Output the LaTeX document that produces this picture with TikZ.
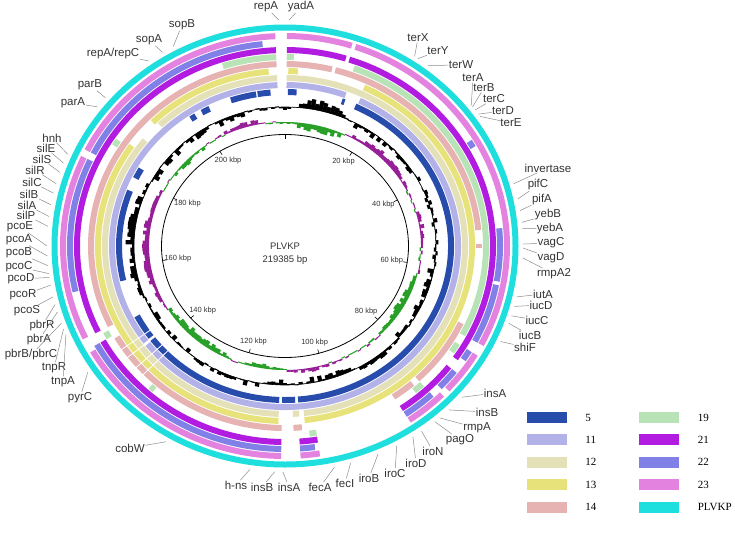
\documentclass[tikz,border=0pt]{standalone}
\usepackage{fontspec}
\setmainfont{Liberation Serif}
\setsansfont{Liberation Sans}
\usetikzlibrary{positioning}
\usetikzlibrary{calc}

\definecolor{c5}{RGB}{40,76,172}
\definecolor{c11}{RGB}{178,178,232}
\definecolor{c12}{RGB}{228,225,184}
\definecolor{c13}{RGB}{231,227,122}
\definecolor{c14}{RGB}{231,178,178}
\definecolor{c19}{RGB}{184,227,182}
\definecolor{c21}{RGB}{178,28,224}
\definecolor{c22}{RGB}{128,128,230}
\definecolor{c23}{RGB}{228,130,224}
\definecolor{cPL}{RGB}{30,222,222}
\definecolor{skewpos}{RGB}{150,30,150}
\definecolor{skewneg}{RGB}{40,160,40}

\tikzset{%
	% rings and plots:
	ringband/.style = {line width=6pt},
	gcbar/.style = {line width=4.2pt, black},
	skewbar/.style = {line width=3.8pt},
	% texts:
	gene/.style = {inner sep=0.4pt, text=black!80, font=\fontsize{11.5}{12}\selectfont\sffamily},
	leader/.style = {draw=black!45, line width=0.5pt},
	kbp/.style = {inner sep=0pt, text=black!80, font=\fontsize{7.5}{8}\selectfont\sffamily},
	legbox/.style = {minimum width=40pt, minimum height=11pt, inner sep=0pt},
	legtext/.style = {inner sep=0pt, font=\fontsize{11}{12}\selectfont}
}

% one ring piece: radius, colour, from, to (degrees clockwise from the top)
\newcommand{\ringseg}[4]{%
	\pgfmathsetmacro{\ringry}{#1-12}%
	\draw[ringband, #2] ({#3-90}:{#1} and {\ringry}) arc[start angle={#3-90}, end angle={#4-90}, x radius=#1, y radius=\ringry];%
}

\begin{document}
\begin{tikzpicture}[x=1pt, y=-1pt]
	\useasboundingbox (0,0) rectangle (735,533);
	\coordinate (c) at (285,246);

	\begin{scope}[shift={(c)}]
		% blast rings, inside out
		\foreach \a/\b in {25/175.5, 176.5/181, 182/233, 233.8/243, 257/291, 296/300, 325.5/327.5, 330/333, 341/350, 350.5/355, 1/4, 20/21}
			{\ringseg{166}{c5}{\a}{\b}}
		\foreach \a/\b in {0.5/20.5, 25.5/232.5, 233.5/357.5}
			{\ringseg{173}{c11}{\a}{\b}}
		\foreach \a/\b in {0.5/174, 175.5/177.5, 182/309, 316/357.5}
			{\ringseg{180}{c12}{\a}{\b}}
		\foreach \a/\b in {1/4, 25/174, 182/305, 315/355}
			{\ringseg{187}{c13}{\a}{\b}}
		\foreach \a/\b in {0.5/14, 15/85, 89.5/90.5, 115/137, 139/146, 175/177.5, 181/240, 244/357.5}
			{\ringseg{194}{c14}{\a}{\b}}
		\foreach \a/\b in {342/357.5, 0.5/2.5, 20/118, 121/124, 137/140, 171/173, 220.5/222, 241/243, 302/304}
			{\ringseg{201}{c19}{\a}{\b}}
		\foreach \a/\b in {0.5/17, 18/125, 128/146, 171/176, 181/241, 244/357.5}
			{\ringseg{208}{c21}{\a}{\b}}
		\foreach \a/\b in {59/61, 85/100, 101/118, 121/124, 128/134, 137/146, 172/176, 181/241, 257/295, 297/354}
			{\ringseg{215}{c22}{\a}{\b}}
		\foreach \a/\b in {0.5/17.5, 18.5/118, 121/133, 135/146, 171/176, 181/240, 244/295, 297/357.5}
			{\ringseg{222}{c23}{\a}{\b}}
		\draw[ringband, cPL] (0,0) ellipse [x radius=230.5, y radius=218.5];
		\foreach \w in {226,229,233,236}
			\draw[white, line width=0.8pt] ({\w-90}:{162} and {150}) -- ({\w-90}:{198} and {186});

		% GC content
		\pgfmathsetseed{7}
		\foreach \t in {0,1.5,...,358.5}{
			\pgfmathsetmacro{\gcb}{10*max(0,1-((\t-14)/12)^2)+8*max(0,1-((\t-142)/12)^2)+6*max(0,1-((\t-200)/18)^2)+8*max(0,1-((\t-272)/28)^2)+3*max(0,1-((\t-75)/25)^2)}
			\pgfmathsetmacro{\gch}{max(-7,min(13,\gcb-2.5+3.5*rand))}
			\pgfmathsetmacro{\gcro}{151+\gch}
			\pgfmathsetmacro{\gcrv}{139+\gch}
			\draw[gcbar] ({\t-90}:{151} and {139}) -- ({\t-90}:{\gcro} and {\gcrv});
		}
		\draw[black, line width=0.6pt] (0,0) ellipse [x radius=151, y radius=139];

		% GC skew
		\foreach \t in {0,1.5,...,358.5}{
			\pgfmathsetmacro{\skb}{5*max(0,1-((\t-45)/18)^2)+6*max(0,1-((\t-268)/30)^2)+4*max(0,1-((\t-342)/10)^2)+3*max(0,1-((\t-82)/10)^2)+3*max(0,1-((\t-168)/10)^2)-6*max(0,1-((\t-14)/14)^2)-6*max(0,1-((\t-120)/18)^2)-6*max(0,1-((\t-222)/20)^2)-3*max(0,1-((\t-315)/12)^2)-3*max(0,1-((\t-190)/10)^2)}
			\pgfmathsetmacro{\skh}{max(-9,min(9,\skb+2*rand))}
			\pgfmathsetmacro{\skh}{abs(\skh)<1 ? (\skh<0 ? -1 : 1) : \skh}
			\pgfmathsetmacro{\skro}{136+\skh}
			\pgfmathsetmacro{\skrv}{124+\skh}
			\ifdim \skh pt>0pt \def\skcol{skewpos}\else\def\skcol{skewneg}\fi
			\draw[skewbar, \skcol] ({\t-90}:{136} and {124}) -- ({\t-90}:{\skro} and {\skrv});
		}

		% backbone and kbp scale
		\draw[black, line width=0.8pt] (0,0) ellipse [x radius=123.5, y radius=111.5];
		\draw[black, line width=0.6pt] (-90:{123.5} and {111.5}) -- (-90:{119.5} and {107.5});
		\foreach \k in {20,40,...,200}{
			\pgfmathsetmacro{\ang}{\k/219.385*360-90}
			\draw[black, line width=0.6pt] (\ang:{123.5} and {111.5}) -- (\ang:{119.5} and {107.5});
			\node (kb\k) [kbp] at (\ang:{108} and {100}) {\k{} kbp};
		}
	\end{scope}

	\node (plas) [inner sep=0pt, text=black!80, font=\fontsize{9.5}{10}\selectfont\sffamily] at (285,246) {PLVKP};
	\node (len) [below=6pt of plas, inner sep=0pt, text=black!80, font=\fontsize{9.5}{10}\selectfont\sffamily] {219385 bp};

	% gene labels and their leaders
	\foreach \id/\txt/\lx/\ly/\ang in {
		repA/repA/266/7/358.5, yadA/yadA/301/7/1,
		sopB/sopB/182/25/332, sopA/sopA/149/40/329, repAC/{repA/repC}/113/54/325,
		parB/parB/90/85/311, parA/parA/73/103/308,
		hnh/hnh/52/138/294, silE/silE/46/148/291.5, silS/silS/42/159/289, silR/silR/35/170/286,
		silC/silC/32/182/283.5, silB/silB/29/194/280.5, silA/silA/27/205/277.5, silP/silP/26/215/275,
		pcoE/pcoE/20/227/270, pcoA/pcoA/19/240/267.5, pcoB/pcoB/19/253/265, pcoC/pcoC/19/267/263,
		pcoD/pcoD/21/279/262, pcoR/pcoR/23/295/260, pcoS/pcoS/27/311/257,
		pbrR/pbrR/42/326/255, pbrA/pbrA/39/340/253, pbrBC/{pbrB/pbrC}/31/355/250,
		tnpR/tnpR/54/368/248.5, tnpA/tnpA/63/382/247, pyrC/pyrC/80/398/236,
		cobW/cobW/130/448/210,
		hns/h-ns/236/485/188.5, insB2/insB/262/487/182.5, insA2/insA/289/487/180.5,
		fecA/fecA/320/487/168, fecI/fecI/345/483/164, iroB/iroB/369/478/157, iroC/iroC/395/473/152,
		iroD/iroD/416/463/147.5, iroN/iroN/433/451/145, pagO/pagO/460/440/141, rmpA/rmpA/477/428/139.5,
		insB1/insB/487/412/136.5, insA1/insA/495/393/132,
		shiF/shiF/525/347/115, iucB/iucB/530/335/110, iucC/iucC/537/320/108, iucD/iucD/541/305/105.5,
		iutA/iutA/543/294/103, rmpA2/rmpA2/554/274/93, vagD/vagD/551/258/90.5, vagC/vagC/551/243/89.5,
		yebA/yebA/550/229/85.5, yebB/yebB/548/215/84, pifA/pifA/542/200/81, pifC/pifC/538/185/78,
		invertase/invertase/548/168/74,
		terE/terE/511/123/55, terD/terD/503/111/54.3, terC/terC/494/99/53, terB/terB/484/88/52,
		terA/terA/473/78/51.5, terW/terW/461/65/37, terY/terY/438/51/34, terX/terX/418/38/33}{
		\node (l-\id) [gene] at (\lx,\ly) {\txt};
		\coordinate (g-\id) at ($(c)+({\ang-90}:{238} and {226})$);
		\draw[leader] (l-\id) -- (g-\id);
	}

	% legend
	\node (k5) [legbox, fill=c5] at (547,417.5) {};
	\node (k11) [legbox, fill=c11, below=11pt of k5] {};
	\node (k12) [legbox, fill=c12, below=11pt of k11] {};
	\node (k13) [legbox, fill=c13, below=11pt of k12] {};
	\node (k14) [legbox, fill=c14, below=11pt of k13] {};
	\node (k19) [legbox, fill=c19, right=72pt of k5] {};
	\node (k21) [legbox, fill=c21, below=11pt of k19] {};
	\node (k22) [legbox, fill=c22, below=11pt of k21] {};
	\node (k23) [legbox, fill=c23, below=11pt of k22] {};
	\node (kPL) [legbox, fill=cPL, below=11pt of k23] {};
	\foreach \k/\txt in {5/5, 11/11, 12/12, 13/13, 14/14, 19/19, 21/21, 22/22, 23/23, PL/PLVKP}
		\node (t\k) [legtext, right=18pt of k\k] {\txt};
\end{tikzpicture}
\end{document}
